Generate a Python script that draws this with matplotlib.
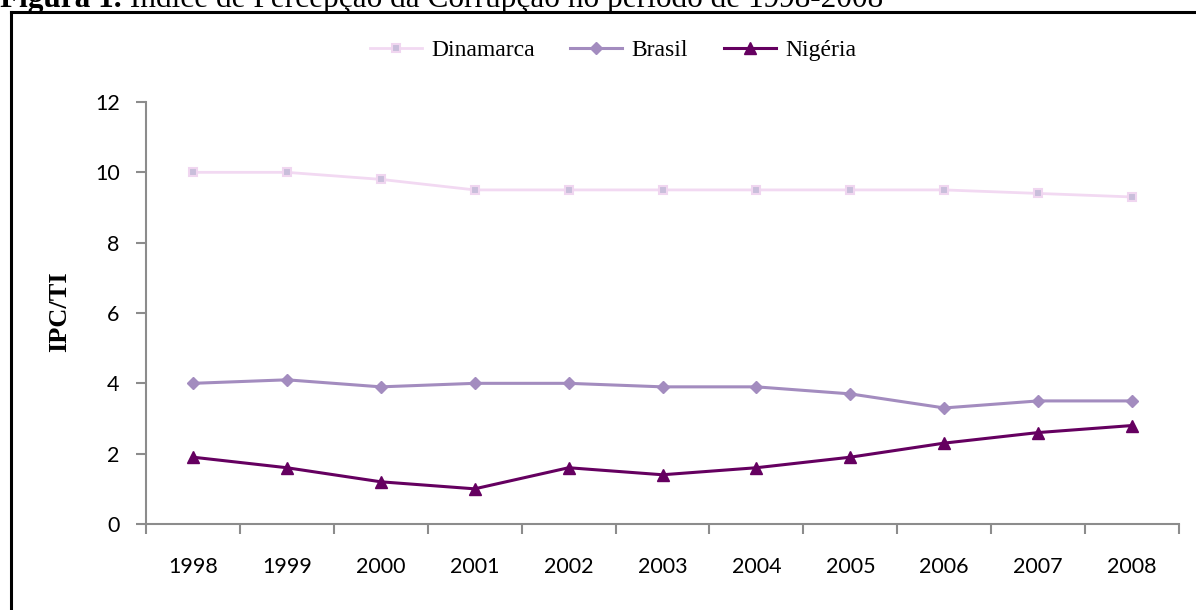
import matplotlib
matplotlib.use("Agg")
import matplotlib.pyplot as plt
from matplotlib.lines import Line2D

years = ["1998", "1999", "2000", "2001", "2002", "2003", "2004", "2005", "2006", "2007", "2008"]
dinamarca = [10.0, 10.0, 9.8, 9.5, 9.5, 9.5, 9.5, 9.5, 9.5, 9.4, 9.3]
brasil = [4.0, 4.1, 3.9, 4.0, 4.0, 3.9, 3.9, 3.7, 3.3, 3.5, 3.5]
nigeria = [1.9, 1.6, 1.2, 1.0, 1.6, 1.4, 1.6, 1.9, 2.3, 2.6, 2.8]
yticks = [0, 2, 4, 6, 8, 10, 12]

W, H = 1196, 610
fig = plt.figure(figsize=(W / 100, H / 100), dpi=100)
ax = fig.add_axes([146 / W, 1 - 524 / H, (1179 - 146) / W, (524 - 102) / H])

x = list(range(len(years)))
ax.plot(x, dinamarca, color="#F2D9F2", lw=2.0, marker="s", ms=6,
        mfc="#C9BEDB", mec="#F0D6F0", mew=1.5, label="Dinamarca", zorder=3)
ax.plot(x, brasil, color="#A38CBF", lw=2.2, marker="D", ms=6,
        mfc="#A38CBF", mec="#A38CBF", label="Brasil", zorder=3)
ax.plot(x, nigeria, color="#650060", lw=2.2, marker="^", ms=8,
        mfc="#650060", mec="#650060", label="Nigéria", zorder=3)

ax.set_xlim(-0.5, len(years) - 0.5)
ax.set_ylim(0, 12)
ax.set_yticks(yticks)
ax.set_yticklabels([str(v) for v in yticks])
ax.set_xticks(x)
ax.set_xticklabels(years)
ax.set_xticks([i - 0.5 for i in range(len(years) + 1)], minor=True)

for s in ["top", "right"]:
    ax.spines[s].set_visible(False)
for s in ["left", "bottom"]:
    ax.spines[s].set_color("#8C8C8C")
    ax.spines[s].set_linewidth(1.5)

tickfont = "Lato"
ax.tick_params(axis="y", which="major", direction="out", length=7, width=1.5,
               color="#8C8C8C", labelsize=15.5, pad=12)
ax.tick_params(axis="x", which="major", length=0, labelsize=15.5, pad=24)
ax.tick_params(axis="x", which="minor", direction="out", length=7, width=1.5,
               color="#8C8C8C")
for lab in ax.get_xticklabels() + ax.get_yticklabels():
    lab.set_fontfamily(tickfont)
    lab.set_color("black")

fig.text(60 / W, 1 - 312 / H, "IPC/TI", fontfamily="Liberation Serif",
         fontweight="bold", fontsize=19, rotation=90, ha="center", va="center")

leg = fig.legend(loc="center", bbox_to_anchor=(613 / W, 1 - 50 / H), ncol=3,
                 frameon=False, prop={"family": "Liberation Serif", "size": 17},
                 handlelength=2.2, handletextpad=0.4, columnspacing=1.5)

# outer frame (left and top border)
fig.add_artist(Line2D([10.5 / W, 10.5 / W], [0, 1 - 11.5 / H], color="black",
                      lw=2.2, transform=fig.transFigure))
fig.add_artist(Line2D([10.5 / W, 1.0], [1 - 11.5 / H, 1 - 11.5 / H], color="black",
                      lw=2.2, transform=fig.transFigure))

# caption (cut off at the top, as in the source)
t1 = fig.text(0, 1 - 7 / H, "Figura 1.", fontsize=22.5, fontfamily="Liberation Serif",
              fontweight="bold", va="baseline", ha="left", zorder=0)
ax.annotate(" Índice de Percepção da Corrupção no período de 1998-2008",
            xy=(1, 0), xycoords=t1, fontsize=22.5, fontfamily="Liberation Serif",
            va="bottom", ha="left", annotation_clip=False, zorder=0)

fig.savefig("out.png", dpi=100)
